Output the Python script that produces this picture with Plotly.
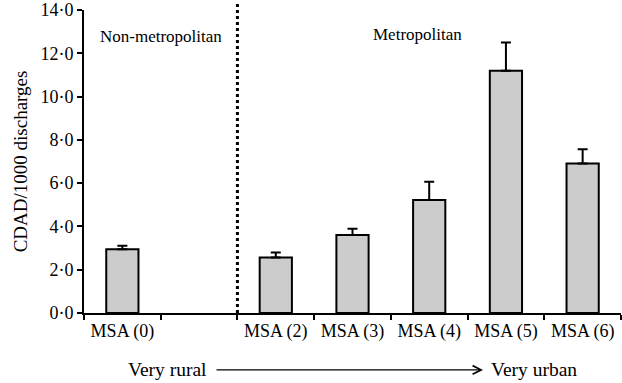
import plotly.graph_objects as go

categories = ["MSA (0)", " ", "MSA (2)", "MSA (3)", "MSA (4)", "MSA (5)", "MSA (6)"]
rates = [2.94, None, 2.57, 3.60, 5.22, 11.19, 6.91]
upper_err = [0.17, None, 0.23, 0.29, 0.85, 1.31, 0.66]
y_tickvals = [0, 2, 4, 6, 8, 10, 12, 14]
y_ticktext = ["0·0", "2·0", "4·0", "6·0", "8·0", "10·0", "12·0", "14·0"]

FONT = "'Times New Roman', 'Liberation Serif', Tinos, 'DejaVu Serif', serif"

fig = go.Figure()
fig.add_trace(go.Bar(
    x=categories, y=rates,
    marker=dict(color="#cccccc", line=dict(color="black", width=2)),
    error_y=dict(type="data", array=upper_err, arrayminus=[0] * len(upper_err),
                 symmetric=False, color="black", thickness=2, width=5),
    width=0.42,
    showlegend=False,
))

fig.update_layout(
    width=622, height=383,
    margin=dict(l=84, r=1, t=10, b=70, autoexpand=False),
    paper_bgcolor="white", plot_bgcolor="white",
    font=dict(family=FONT, size=18, color="black"),
    xaxis=dict(
        type="category", range=[-0.5, 6.5],
        showline=True, linecolor="black", linewidth=2,
        ticks="outside", tickson="boundaries", ticklen=5, tickwidth=2, tickcolor="black",
        showgrid=False, zeroline=False,
        tickfont=dict(family=FONT, size=18),
    ),
    yaxis=dict(
        range=[0, 14], tickvals=y_tickvals, ticktext=y_ticktext,
        showline=True, linecolor="black", linewidth=2,
        ticks="outside", ticklen=5, tickwidth=2, tickcolor="black",
        showgrid=False, zeroline=False,
        tickfont=dict(family=FONT, size=18),
        title=dict(text="CDAD/1000 discharges", font=dict(family=FONT, size=19), standoff=8),
    ),
)

# dotted divider between non-metropolitan and metropolitan
fig.add_shape(type="line", xref="x", yref="paper", x0=1.5, x1=1.5, y0=0, y1=1.025,
              line=dict(color="black", width=3, dash="dot"))

fig.add_annotation(text="Non-metropolitan", xref="paper", yref="paper",
                   x=(161 - 84) / 537, y=(313.5 - 37) / 303.5, showarrow=False,
                   font=dict(family=FONT, size=17), xanchor="center", yanchor="middle")
fig.add_annotation(text="Metropolitan", xref="paper", yref="paper",
                   x=(417 - 84) / 537, y=(313.5 - 35) / 303.5, showarrow=False,
                   font=dict(family=FONT, size=17), xanchor="center", yanchor="middle")

# bottom arrow
arrow_y = (313.5 - 370.5) / 303.5
fig.add_annotation(text="", xref="paper", yref="paper",
                   x=(483 - 84) / 537, y=arrow_y, ax=-268, ay=0,
                   showarrow=True, arrowhead=5, arrowsize=1.4, arrowwidth=1.2, arrowcolor="black")
fig.add_annotation(text="Very rural", xref="paper", yref="paper",
                   x=(209 - 84) / 537, y=arrow_y, showarrow=False,
                   font=dict(family=FONT, size=19.5), xanchor="right", yanchor="middle")
fig.add_annotation(text="Very urban", xref="paper", yref="paper",
                   x=(489 - 84) / 537, y=arrow_y, showarrow=False,
                   font=dict(family=FONT, size=19.5), xanchor="left", yanchor="middle")

fig.write_html("out.html", config={"displayModeBar": False},
               post_script="document.body.style.margin='0px';")
